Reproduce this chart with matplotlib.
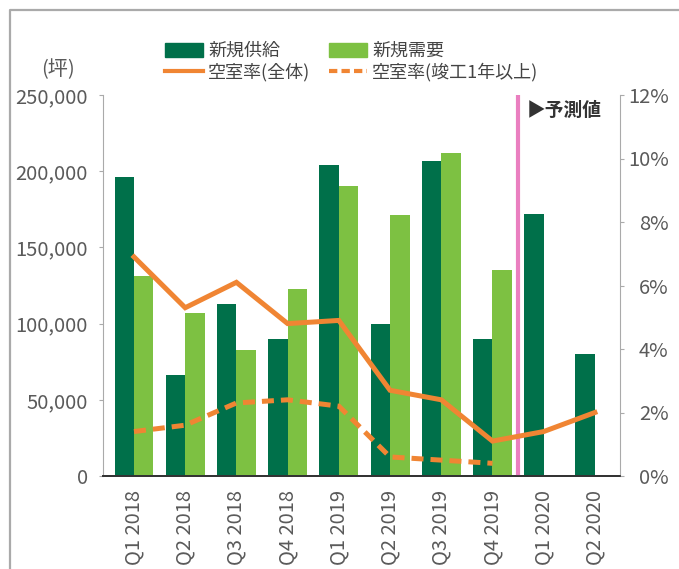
import numpy as np
import matplotlib
matplotlib.use("Agg")
import matplotlib.pyplot as plt
from matplotlib.patches import Patch
from matplotlib.lines import Line2D
from matplotlib.ticker import FuncFormatter

plt.rcParams['font.family'] = ['Noto Sans CJK JP', 'DejaVu Sans']

quarters = ["Q1 2018", "Q2 2018", "Q3 2018", "Q4 2018",
            "Q1 2019", "Q2 2019", "Q3 2019", "Q4 2019",
            "Q1 2020", "Q2 2020"]
new_supply = [196000, 66000, 113000, 90000, 204000, 100000, 207000, 90000, 172000, 80000]
new_demand = [131000, 107000, 83000, 123000, 190000, 171000, 212000, 135000, np.nan, np.nan]
vacancy_all = [6.9, 5.3, 6.1, 4.8, 4.9, 2.7, 2.4, 1.1, 1.4, 2.0]
vacancy_old = [1.4, 1.6, 2.3, 2.4, 2.2, 0.6, 0.5, 0.4]
forecast_split = 7.5

DARK = "#00704a"
LIGHT = "#7dc142"
ORANGE = "#f08533"
PINK = "#ea7fc0"
TXT = "#5a5a5a"
SPINE = "#aaaaaa"

W, H = 679, 569
fig = plt.figure(figsize=(W / 100, H / 100), dpi=100)
ax = fig.add_axes([103 / W, 1 - 476 / H, 517 / W, 381 / H])
ax2 = ax.twinx()

x = np.arange(len(quarters))
w = 0.38
ax.bar(x - w / 2, new_supply, width=w, color=DARK, zorder=2)
ax.bar(x + w / 2, new_demand, width=w, color=LIGHT, zorder=2)
ax.axvline(forecast_split, color=PINK, lw=3, zorder=3)
ax.text(7.66, 240000, "▶予測値", fontsize=13.5, color="#333333",
        fontweight="bold", va="center", ha="left")

ax2.plot(x, vacancy_all, color=ORANGE, lw=3.6, solid_joinstyle="miter")
ax2.plot(x[:len(vacancy_old)], vacancy_old, color=ORANGE, lw=3.6,
         dashes=(2.4, 1.4))

ax.set_xlim(-0.605, 9.49)
ax.set_ylim(0, 250000)
ax2.set_ylim(0, 12)
ax.set_yticks(np.arange(0, 250001, 50000))
ax.yaxis.set_major_formatter(FuncFormatter(lambda v, p: f"{int(v):,}"))
ax2.set_yticks(np.arange(0, 13, 2))
ax2.yaxis.set_major_formatter(FuncFormatter(lambda v, p: f"{int(v)}%"))
ax.set_xticks(x)
ax.set_xticklabels(quarters, rotation=90, fontsize=14.5, color=TXT)

for a in (ax, ax2):
    a.spines['top'].set_visible(False)
    a.spines['left'].set_color(SPINE)
    a.spines['right'].set_color(SPINE)
    a.spines['bottom'].set_color("#333333")
    a.spines['bottom'].set_linewidth(1.3)
ax.spines['right'].set_visible(False)
ax2.spines['left'].set_visible(False)

ax.tick_params(axis='x', length=0, pad=10)
ax.tick_params(axis='y', length=3, color=SPINE, labelsize=14.5,
               labelcolor=TXT, pad=8)
ax2.tick_params(axis='y', length=3, color=SPINE, labelsize=14.5,
                labelcolor=TXT, pad=32)
for lab in ax2.get_yticklabels():
    lab.set_horizontalalignment('right')

fig.text(58 / W, 1 - 70 / H, "(坪)", fontsize=14.5, color=TXT,
         ha="center", va="center")

handles = [Patch(color=DARK), Line2D([], [], color=ORANGE, lw=3),
           Patch(color=LIGHT), Line2D([], [], color=ORANGE, lw=3, dashes=(2, 1))]
labels = ["新規供給", "空室率(全体)", "新規需要", "空室率(竣工1年以上)"]
fig.legend(handles, labels, ncol=2, loc="upper left",
           bbox_to_anchor=(165 / W, 1 - 42 / H), frameon=False,
           fontsize=13, borderpad=0, borderaxespad=0,
           handlelength=2.1, handleheight=0.78, handletextpad=0.3,
           columnspacing=1.0, labelspacing=0.15, labelcolor="#444444")

# outer frame
fig.add_artist(Line2D([10 / W, 10 / W, 1], [0, 1 - 10 / H, 1 - 10 / H],
                      transform=fig.transFigure, color=SPINE, lw=1.6))

fig.savefig("out.png", dpi=100)
